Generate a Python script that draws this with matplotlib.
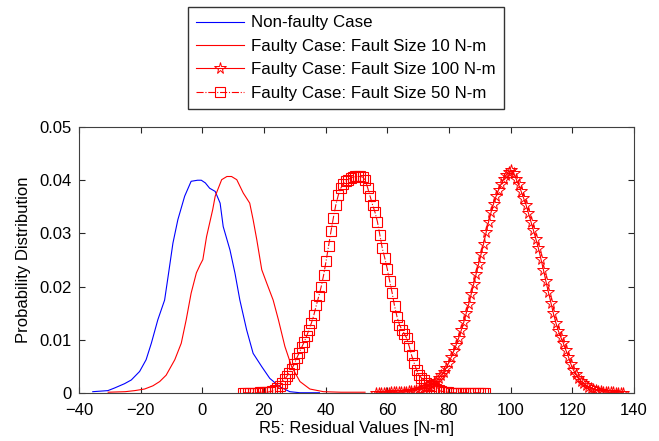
import numpy as np
import matplotlib
matplotlib.use("Agg")
import matplotlib.pyplot as plt
from matplotlib.ticker import FuncFormatter

plt.rcParams['font.family'] = ['Liberation Sans', 'DejaVu Sans']

# ---- data ----
labels = ["Non-faulty Case",
          "Faulty Case: Fault Size 10 N-m",
          "Faulty Case: Fault Size 100 N-m",
          "Faulty Case: Fault Size 50 N-m"]

nonfaulty_x = [-35.5, -30.6, -28.4, -25.2, -23.0, -20.3, -18.2, -16.5, -14.4, -12.2,
               -10.9, -9.5, -7.9, -5.7, -3.6, -1.5, -0.3, 1.0, 2.4, 4.2,
               5.8, 6.8, 9.0, 10.6, 12.2, 14.4, 16.5, 19.3, 21.9, 25.2,
               28.4, 31.7, 35.0, 38.0]
nonfaulty_y = [0.0003, 0.0005, 0.0010, 0.0018, 0.0025, 0.0041, 0.0063, 0.0094, 0.0138, 0.0175,
               0.0226, 0.0282, 0.0326, 0.0370, 0.0398, 0.0400, 0.0400, 0.0395, 0.0385, 0.0379,
               0.0357, 0.0313, 0.0269, 0.0226, 0.0175, 0.0119, 0.0075, 0.0050, 0.0028, 0.0012,
               0.0003, 0.0001, 0.0001, 0.0001]

fault10_x = [-30.5, -25.0, -21.9, -18.7, -16.0, -13.8, -11.7, -8.9, -6.8, -5.2,
             -3.6, -1.9, -0.7, 0.2, 1.4, 3.4, 4.2, 6.3, 8.0, 9.5,
             11.2, 13.3, 15.4, 16.5, 17.7, 19.3, 20.9, 23.0, 24.7, 26.8,
             29.0, 31.7, 34.9, 39.3, 45.0, 52.8]
fault10_y = [0.0002, 0.0003, 0.0005, 0.0008, 0.0014, 0.0022, 0.0034, 0.0063, 0.0094, 0.0138,
             0.0188, 0.0226, 0.0241, 0.0251, 0.0294, 0.0345, 0.0370, 0.0401, 0.0407, 0.0407,
             0.0401, 0.0376, 0.0357, 0.0326, 0.0288, 0.0232, 0.0207, 0.0175, 0.0138, 0.0088,
             0.0050, 0.0022, 0.0008, 0.0003, 0.0002, 0.0002]

# 100-point density estimates (evaluation grid start/end)
fault100_range = (56.5, 136.5)
fault100_y = [0.0001, 0.0001, 0.0001, 0.0001, 0.0001, 0.0001, 0.0002, 0.0002, 0.0002, 0.0002,
              0.0003, 0.0003, 0.0003, 0.0004, 0.0004, 0.0005, 0.0006, 0.0007, 0.0008, 0.0010,
              0.0012, 0.0014, 0.0017, 0.0020, 0.0024, 0.0029, 0.0034, 0.0040, 0.0048, 0.0057,
              0.0068, 0.0079, 0.0091, 0.0104, 0.0118, 0.0133, 0.0150, 0.0167, 0.0186, 0.0205,
              0.0224, 0.0243, 0.0262, 0.0281, 0.0302, 0.0322, 0.0340, 0.0356, 0.0370, 0.0382,
              0.0393, 0.0402, 0.0410, 0.0416, 0.0419, 0.0413, 0.0403, 0.0392, 0.0380, 0.0367,
              0.0354, 0.0338, 0.0322, 0.0306, 0.0289, 0.0272, 0.0252, 0.0232, 0.0210, 0.0190,
              0.0170, 0.0150, 0.0132, 0.0117, 0.0105, 0.0094, 0.0081, 0.0069, 0.0055, 0.0044,
              0.0036, 0.0029, 0.0023, 0.0019, 0.0015, 0.0012, 0.0010, 0.0008, 0.0006, 0.0005,
              0.0004, 0.0003, 0.0003, 0.0002, 0.0002, 0.0002, 0.0001, 0.0001, 0.0001, 0.0001]

fault50_range = (13.2, 91.7)
fault50_y = [0.0001, 0.0001, 0.0001, 0.0001, 0.0001, 0.0001, 0.0001, 0.0002, 0.0002, 0.0002,
             0.0002, 0.0003, 0.0004, 0.0006, 0.0009, 0.0014, 0.0020, 0.0026, 0.0032, 0.0039,
             0.0046, 0.0055, 0.0066, 0.0076, 0.0086, 0.0096, 0.0107, 0.0119, 0.0132, 0.0147,
             0.0165, 0.0182, 0.0200, 0.0222, 0.0248, 0.0276, 0.0304, 0.0330, 0.0354, 0.0372,
             0.0385, 0.0393, 0.0398, 0.0401, 0.0404, 0.0406, 0.0407, 0.0407, 0.0407, 0.0406,
             0.0400, 0.0386, 0.0370, 0.0354, 0.0340, 0.0322, 0.0297, 0.0272, 0.0254, 0.0234,
             0.0211, 0.0189, 0.0164, 0.0144, 0.0129, 0.0119, 0.0112, 0.0103, 0.0088, 0.0071,
             0.0057, 0.0044, 0.0034, 0.0029, 0.0025, 0.0020, 0.0016, 0.0013, 0.0010, 0.0008,
             0.0006, 0.0004, 0.0003, 0.0002, 0.0002, 0.0001, 0.0001, 0.0001, 0.0001, 0.0001,
             0.0001, 0.0001, 0.0001, 0.0001, 0.0001, 0.0001, 0.0001, 0.0001, 0.0001, 0.0001]

x_ticks = [-40, -20, 0, 20, 40, 60, 80, 100, 120, 140]
y_ticks = [0, 0.01, 0.02, 0.03, 0.04, 0.05]
x_label = "R5: Residual Values [N-m]"
y_label = "Probability Distribution"

fault100_x = np.linspace(fault100_range[0], fault100_range[1], len(fault100_y))
fault50_x = np.linspace(fault50_range[0], fault50_range[1], len(fault50_y))

# ---- figure ----
fig = plt.figure(figsize=(6.59, 4.41), dpi=100)
ax = fig.add_axes([0.1197, 0.1082, 0.8423, 0.6039])

ax.plot(nonfaulty_x, nonfaulty_y, color='#0000ff', lw=0.8, label=labels[0])
ax.plot(fault10_x, fault10_y, color='#ff0000', lw=0.8, label=labels[1])
ax.plot(fault100_x, fault100_y, color='#ff0000', lw=0.8, ls='-',
        marker='*', markersize=8.5, markerfacecolor='none', markeredgecolor='#ff0000',
        markeredgewidth=0.7, label=labels[2])
ax.plot(fault50_x, fault50_y, color='#ff0000', lw=0.8, ls='-.',
        marker='s', markersize=6.5, markerfacecolor='none', markeredgecolor='#ff0000',
        markeredgewidth=0.8, label=labels[3])

ax.set_xlim(-40, 140)
ax.set_ylim(0, 0.05)
ax.set_xticks(x_ticks)
ax.set_yticks(y_ticks)
ax.yaxis.set_major_formatter(FuncFormatter(lambda v, p: f"{v:g}"))
ax.tick_params(direction='in', top=True, right=True, length=4, width=0.8,
               labelsize=12, colors='#262626', labelcolor='black')
ax.tick_params(axis='x', pad=7)
ax.tick_params(axis='y', pad=5)
for s in ax.spines.values():
    s.set_color('#404040')
    s.set_linewidth(0.8)

ax.set_xlabel(x_label, fontsize=12, labelpad=2)
ax.set_ylabel(y_label, fontsize=12, labelpad=6)

leg = fig.legend(loc='upper left', bbox_to_anchor=(0.2853, 0.9841),
                 bbox_transform=fig.transFigure, fontsize=12.2, frameon=True,
                 fancybox=False, shadow=False, handlelength=2.8, handletextpad=0.4,
                 borderpad=0.5, labelspacing=0.5, borderaxespad=0, numpoints=1)
leg.get_frame().set_edgecolor('black')
leg.get_frame().set_linewidth(1.0)

fig.savefig("out.png", dpi=100)
